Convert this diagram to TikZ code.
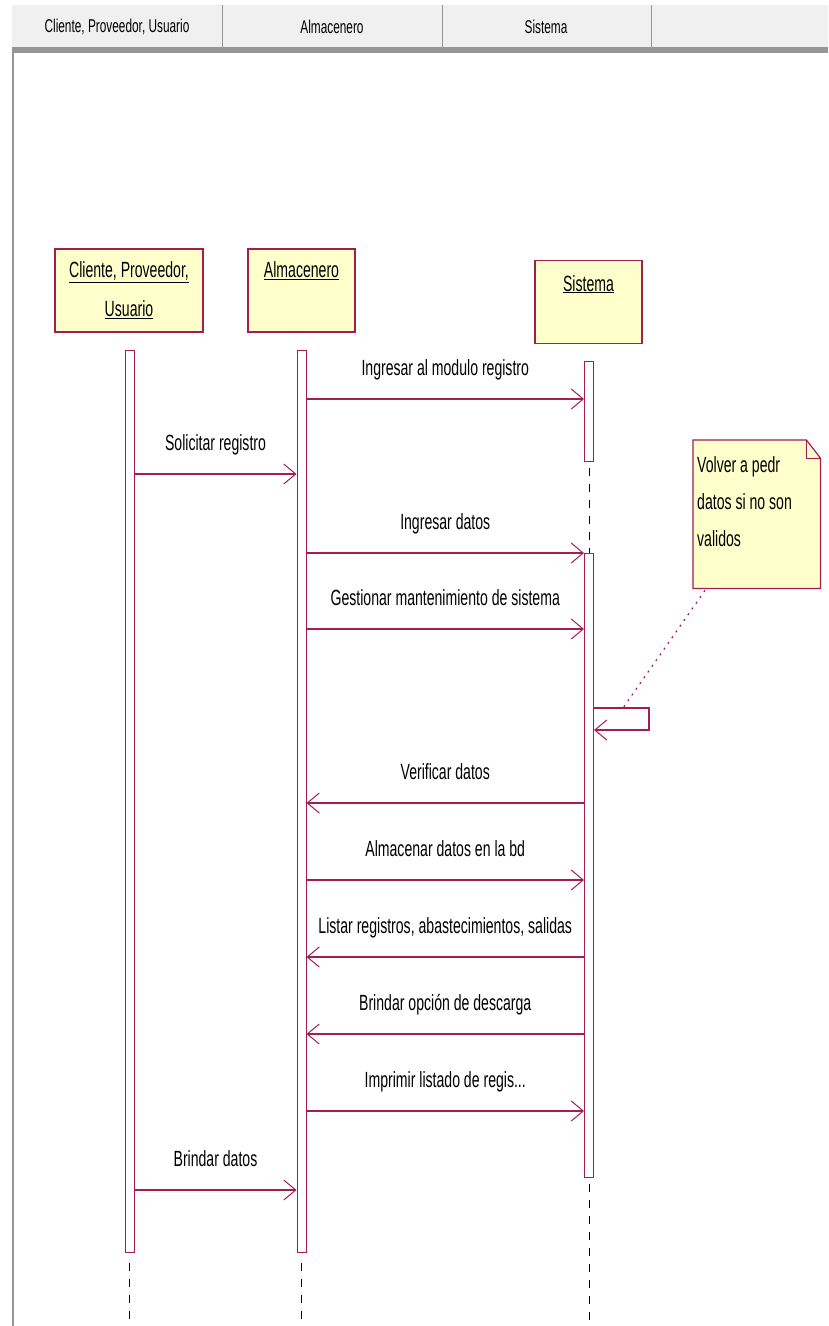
\documentclass[tikz,border=0pt]{standalone}
\usepackage{fontspec}
\setmainfont{Liberation Sans}[FakeStretch=0.64]
\usetikzlibrary{arrows.meta}
\definecolor{umlMaroon}{RGB}{165,28,78}
\definecolor{umlYellow}{RGB}{255,255,204}
\definecolor{headGray}{RGB}{240,240,240}
\definecolor{edgeGray}{RGB}{150,150,150}

\begin{document}
\begin{tikzpicture}[
  x=1pt, y=-1pt,
  headbox/.style={
    draw=umlMaroon,
    fill=umlYellow,
    line width=1.2pt,
    minimum height=83pt,
    inner sep=0pt
  },
  headtxt/.style={
    anchor=north,
    inner sep=0pt,
    align=center,
    font=\fontsize{22}{39}\selectfont
  },
  bar/.style={
    draw=umlMaroon,
    fill=white,
    line width=1pt,
    minimum width=9pt,
    inner sep=0pt
  },
  life/.style={black, line width=0.8pt, dash pattern=on 8pt off 8pt},
  msg/.style={umlMaroon, line width=1.3pt,
    -{Straight Barb[length=12pt,width=20pt,line width=1pt]}},
  lbl/.style={anchor=base, yshift=24pt, inner sep=0pt, text=black,
    font=\fontsize{22}{26}\selectfont},
  coltxt/.style={inner sep=0pt, font=\fontsize{18.5}{22}\selectfont}
]
  \useasboundingbox (0,0) rectangle (828,1326);

  % column header of the tool
  \fill[headGray] (12,5) rectangle (828,47);
  \foreach \sx in {222,442,651}
    \draw[edgeGray, line width=1pt] (\sx,5) -- (\sx,47);
  \fill[edgeGray] (12,47) rectangle (828,53);
  \draw[edgeGray, line width=2pt] (12.5,47) -- (12.5,1326);
  \node[coltxt] (hcli) at (117,27) {Cliente, Proveedor, Usuario};
  \node[coltxt] (halm) at (332,27) {Almacenero};
  \node[coltxt] (hsis) at (546,27) {Sistema};

  % lifeline heads
  \node[headbox, minimum width=148pt] (clihead) at (129,290.5) {};
  \node[headbox, minimum width=107pt] (almhead) at (301.5,290.5) {};
  \node[headbox, minimum width=107pt] (sishead) at (588.5,302) {};
  \node[headtxt] (clitxt) at ([yshift=-13pt]clihead.north)
    {\underline{Cliente, Proveedor,}\\\underline{Usuario}};
  \node[headtxt] (almtxt) at ([yshift=-13pt]almhead.north)
    {\underline{Almacenero}};
  \node[headtxt] (sistxt) at ([yshift=-15pt]sishead.north)
    {\underline{Sistema}};

  % activations
  \node[bar, minimum height=902pt] (clibar) at (129.5,801) {};
  \node[bar, minimum height=902pt] (almbar) at (301.5,801) {};
  \node[bar, minimum height=100pt] (sisbar1) at (589,411) {};
  \node[bar, minimum height=624pt] (sisbar2) at (589,865) {};

  \draw[life] ([yshift=-10pt]clibar.south) -- (clibar.south |- 0,1326);
  \draw[life] ([yshift=-10pt]almbar.south) -- (almbar.south |- 0,1326);
  \draw[life] ([yshift=-6pt]sisbar1.south) -- (sisbar2.north);
  \draw[life] ([yshift=-6pt]sisbar2.south) -- (sisbar2.south |- 0,1326);

  % messages
  \draw[msg] (almbar.east |- 0,399) -- node[lbl]{Ingresar al modulo registro} (sisbar1.west |- 0,399);
  \draw[msg] (clibar.east |- 0,474) -- node[lbl]{Solicitar registro} (almbar.west |- 0,474);
  \draw[msg] (almbar.east |- 0,553) -- node[lbl]{Ingresar datos} (sisbar2.west |- 0,553);
  \draw[msg] (almbar.east |- 0,629) -- node[lbl]{Gestionar mantenimiento de sistema} (sisbar2.west |- 0,629);
  \draw[msg] (sisbar2.east |- 0,708) -- (649,708) -- (649,730) -- (sisbar2.east |- 0,730);
  \draw[msg] (sisbar2.west |- 0,803) -- node[lbl]{Verificar datos} (almbar.east |- 0,803);
  \draw[msg] (almbar.east |- 0,880) -- node[lbl]{Almacenar datos en la bd} (sisbar2.west |- 0,880);
  \draw[msg] (sisbar2.west |- 0,957) -- node[lbl]{Listar registros, abastecimientos, salidas} (almbar.east |- 0,957);
  \draw[msg] (sisbar2.west |- 0,1034) -- node[lbl]{Brindar opción de descarga} (almbar.east |- 0,1034);
  \draw[msg] (almbar.east |- 0,1111) -- node[lbl]{Imprimir listado de regis...} (sisbar2.west |- 0,1111);
  \draw[msg] (clibar.east |- 0,1190) -- node[lbl]{Brindar datos} (almbar.west |- 0,1190);

  % note
  \node[minimum width=127pt, minimum height=148pt, inner sep=0pt,
    anchor=north west] (note) at (693,440) {};
  \draw[umlMaroon, fill=umlYellow, line width=1.2pt]
    (note.north west) -- ([xshift=-14pt]note.north east)
    -- ([yshift=-18pt]note.north east) -- (note.south east)
    -- (note.south west) -- cycle;
  \draw[umlMaroon, line width=1pt] ([xshift=-14pt]note.north east)
    -- ([xshift=-14pt,yshift=-18pt]note.north east) -- ([yshift=-18pt]note.north east);
  \node[anchor=north west, inner sep=0pt, align=left, text=black,
    font=\fontsize{22}{37}\selectfont] (notetxt) at ([xshift=4pt,yshift=-16pt]note.north west)
    {Volver a pedr\\datos si no son\\validos};
  \coordinate (selftop) at (623,708);
  \draw[umlMaroon, line width=1.2pt, dash pattern=on 2pt off 5pt]
    ([xshift=12pt,yshift=-2pt]note.south west) -- (selftop);
\end{tikzpicture}
\end{document}
